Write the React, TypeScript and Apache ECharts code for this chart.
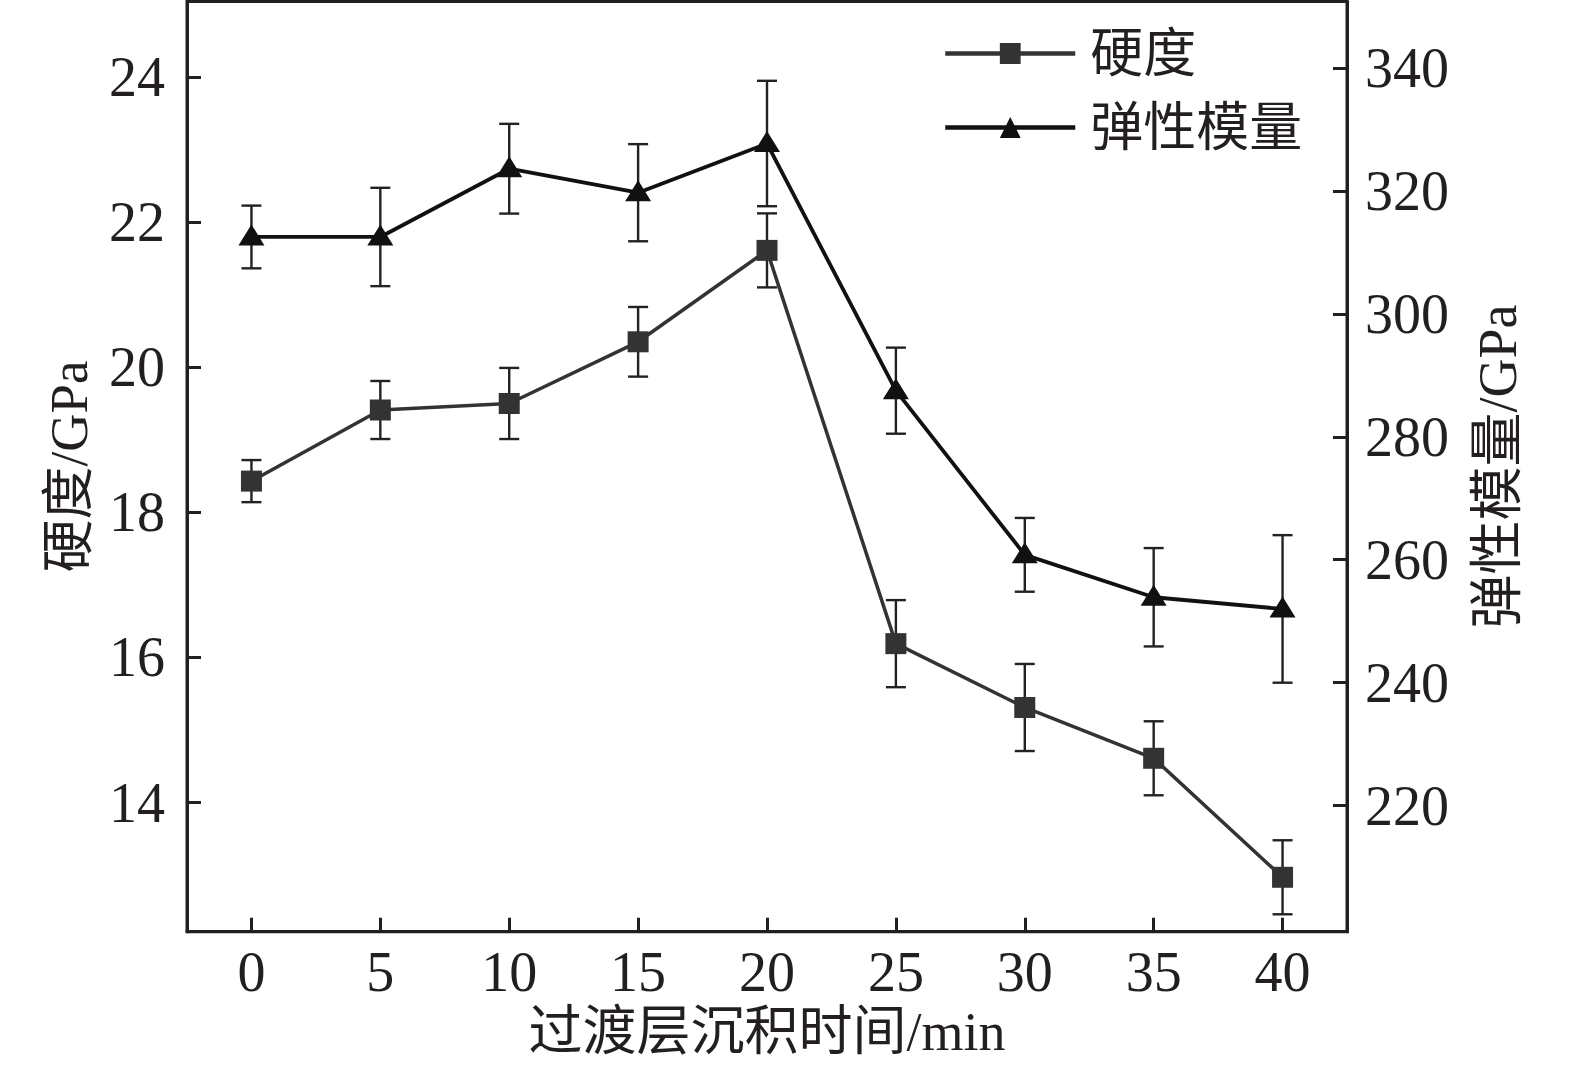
import React, { useEffect, useRef } from "react";
import * as echarts from "echarts";

const times = [0, 5, 10, 15, 20, 25, 30, 35, 40];
const hardness = [18.43, 19.41, 19.5, 20.35, 21.61, 16.19, 15.31, 14.61, 12.97];
const hardnessErr = [0.29, 0.4, 0.49, 0.48, 0.51, 0.6, 0.6, 0.51, 0.51];
const modulus = [312.5, 312.5, 323.6, 319.7, 327.7, 287.5, 260.8, 253.9, 252.0];
const modulusErr = [5.1, 8.0, 7.3, 7.9, 10.2, 7.0, 6.0, 8.0, 12.0];

const xTicks = [0, 5, 10, 15, 20, 25, 30, 35, 40];
const hardTicks = [14, 16, 18, 20, 22, 24];
const modTicks = [220, 240, 260, 280, 300, 320, 340];

const FONT = "'Liberation Serif', 'Times New Roman', 'Noto Sans CJK SC', serif";
const INK = "#231f20";

function errorBarItem(params: any, api: any) {
  const x = api.value(0);
  const y = api.value(1);
  const e = api.value(2);
  const top = api.coord([x, y + e]);
  const bot = api.coord([x, y - e]);
  const cap = 10;
  const style = { stroke: "#222", lineWidth: 2.4 };
  return {
    type: "group",
    children: [
      { type: "line", shape: { x1: top[0], y1: top[1], x2: bot[0], y2: bot[1] }, style },
      { type: "line", shape: { x1: top[0] - cap, y1: top[1], x2: top[0] + cap, y2: top[1] }, style },
      { type: "line", shape: { x1: bot[0] - cap, y1: bot[1], x2: bot[0] + cap, y2: bot[1] }, style },
    ],
  };
}

export default function App() {
  const ref = useRef<HTMLDivElement>(null);
  useEffect(() => {
    if (!ref.current) return;
    const chart = echarts.init(ref.current, null, { renderer: "svg" });
    const axisCommon = {
      type: "value",
      axisLine: { show: true, onZero: false, lineStyle: { color: INK, width: 3 } },
      axisTick: { show: true, inside: true, length: 14, lineStyle: { color: INK, width: 3 } },
      splitLine: { show: false },
    };
    chart.setOption({
      animation: false,
      backgroundColor: "#fff",
      textStyle: { fontFamily: FONT },
      grid: {
        left: 187,
        right: 228,
        top: 1.5,
        bottom: 136.3,
        show: true,
        borderColor: INK,
        borderWidth: 3,
        containLabel: false,
      },
      legend: {
        orient: "vertical",
        left: 938,
        top: 22,
        itemWidth: 130,
        itemHeight: 26,
        itemGap: 21,
        data: ["硬度", "弹性模量"],
        lineStyle: { width: 4.5 },
        textStyle: { fontSize: 53, color: INK, fontFamily: FONT, padding: [0, 0, 0, 10] },
      },
      xAxis: {
        ...axisCommon,
        min: -2.5,
        max: 42.5,
        name: "过渡层沉积时间/min",
        nameLocation: "middle",
        nameGap: 70,
        nameTextStyle: { fontSize: 54, color: INK, fontFamily: FONT },
        axisTick: { ...axisCommon.axisTick, customValues: xTicks },
        axisLabel: { customValues: xTicks, fontSize: 56, color: INK, margin: 12, fontFamily: FONT },
      },
      yAxis: [
        {
          ...axisCommon,
          position: "left",
          min: 12.22,
          max: 25.04,
          name: "硬度/GPa",
          nameLocation: "middle",
          nameRotate: 90,
          nameGap: 92,
          nameTextStyle: { fontSize: 53, color: INK, fontFamily: FONT },
          axisTick: { ...axisCommon.axisTick, customValues: hardTicks },
          axisLabel: { customValues: hardTicks, fontSize: 56, color: INK, margin: 22, fontFamily: FONT },
        },
        {
          ...axisCommon,
          position: "right",
          min: 199.5,
          max: 350.8,
          name: "弹性模量/GPa",
          nameLocation: "middle",
          nameRotate: 90,
          nameGap: 124,
          nameTextStyle: { fontSize: 54, color: INK, fontFamily: FONT },
          axisTick: { ...axisCommon.axisTick, customValues: modTicks },
          axisLabel: { customValues: modTicks, fontSize: 56, color: INK, margin: 18, fontFamily: FONT },
        },
      ],
      series: [
        {
          type: "custom",
          name: "hardnessErr",
          xAxisIndex: 0,
          yAxisIndex: 0,
          z: 1,
          renderItem: errorBarItem,
          encode: { x: 0, y: 1 },
          data: times.map((t, i) => [t, hardness[i], hardnessErr[i]]),
        },
        {
          type: "custom",
          name: "modulusErr",
          xAxisIndex: 0,
          yAxisIndex: 1,
          z: 1,
          renderItem: errorBarItem,
          encode: { x: 0, y: 1 },
          data: times.map((t, i) => [t, modulus[i], modulusErr[i]]),
        },
        {
          type: "line",
          name: "硬度",
          xAxisIndex: 0,
          yAxisIndex: 0,
          z: 3,
          symbol: "rect",
          symbolSize: 21,
          showAllSymbol: true,
          lineStyle: { color: "#333", width: 3.5 },
          itemStyle: { color: "#333" },
          data: times.map((t, i) => [t, hardness[i]]),
        },
        {
          type: "line",
          name: "弹性模量",
          xAxisIndex: 0,
          yAxisIndex: 1,
          z: 3,
          symbol: "triangle",
          symbolSize: [26, 21],
          symbolOffset: [0, -2],
          showAllSymbol: true,
          lineStyle: { color: "#111", width: 3.8 },
          itemStyle: { color: "#111" },
          data: times.map((t, i) => [t, modulus[i]]),
        },
      ],
    });
    return () => chart.dispose();
  }, []);
  return (
    <div
      ref={ref}
      style={{ position: "absolute", left: 0, top: 0, width: 1575, height: 1068, background: "#fff" }}
    />
  );
}
